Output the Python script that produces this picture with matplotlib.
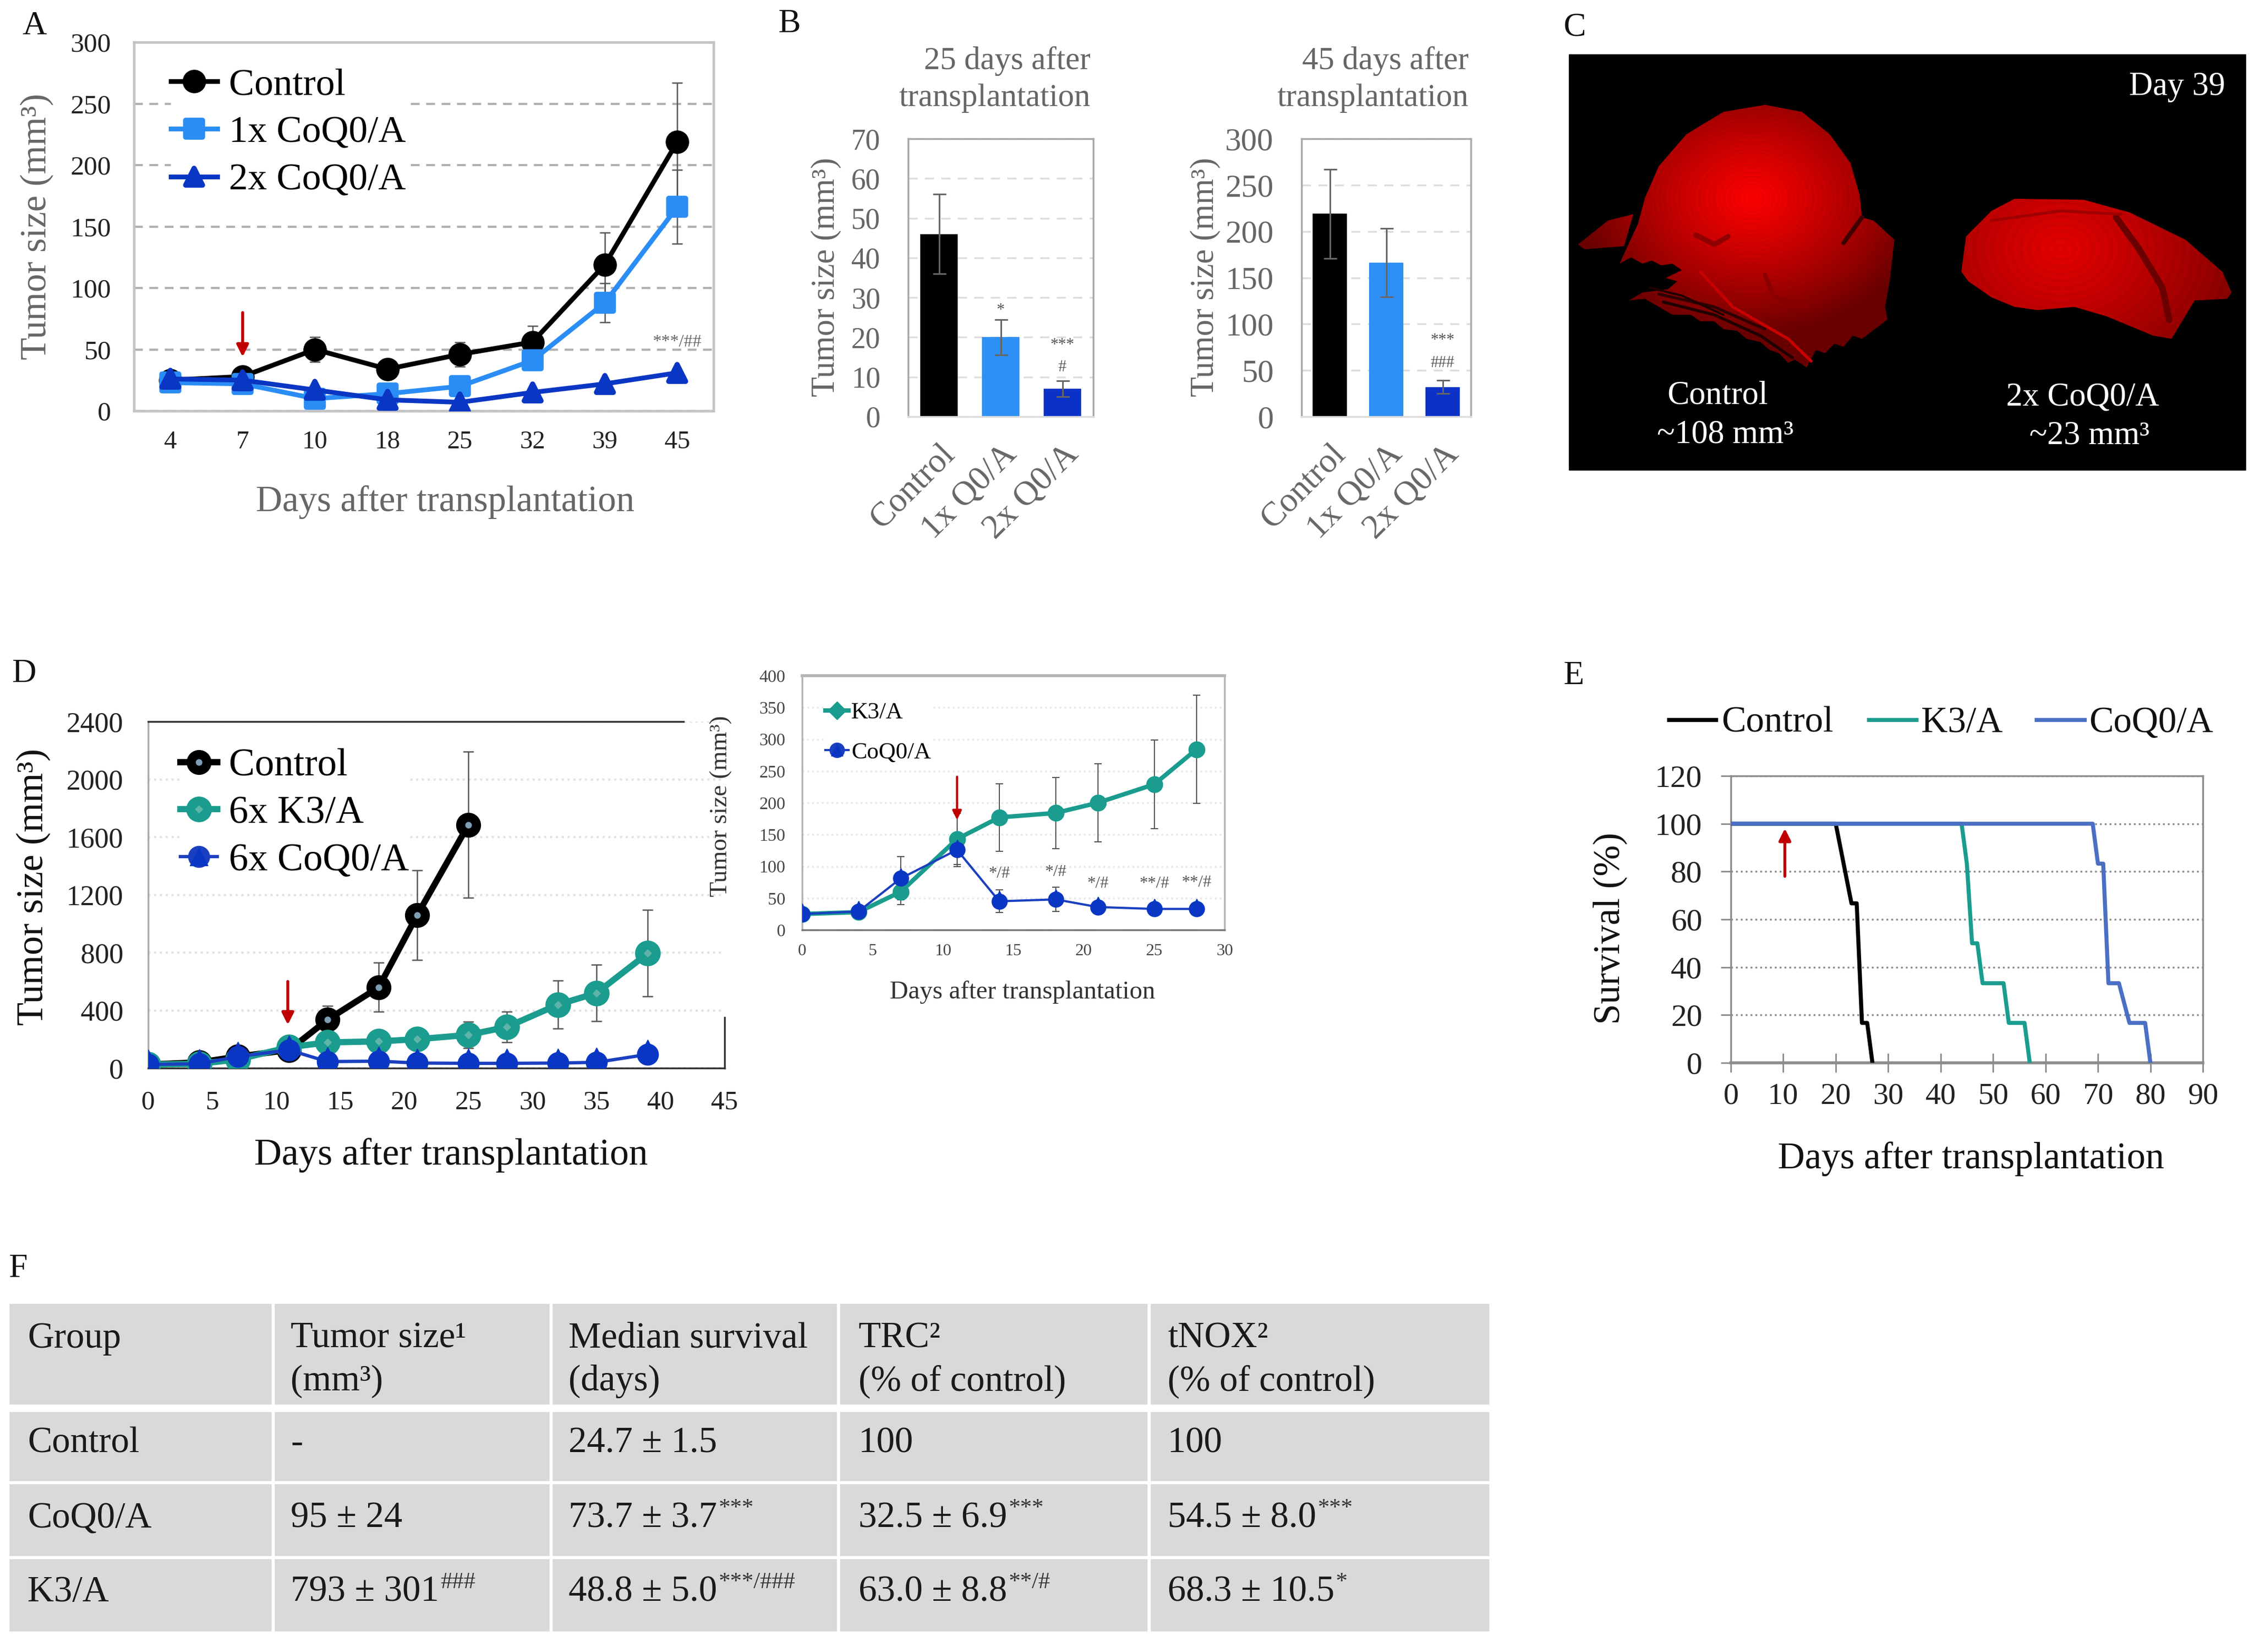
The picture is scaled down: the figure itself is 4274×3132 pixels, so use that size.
import numpy as np
import matplotlib
matplotlib.use("Agg")
from matplotlib import pyplot as plt
from matplotlib.lines import Line2D
from matplotlib.legend_handler import HandlerTuple
from matplotlib.markers import MarkerStyle
from matplotlib.patches import Polygon, Rectangle
from matplotlib.transforms import ScaledTranslation

plt.rcParams["font.family"] = ["Liberation Serif", "DejaVu Serif"]

W, H = 4274, 3132
BLACK = "#000000"
BLUE_1X = "#2a8df5"
BLUE_2X = "#0a36c4"
TEAL = "#1a9c8e"
NAVY = "#1a3fc0"
RED = "#c00000"
GREY_TXT = "#666666"
ROUND_SQ = MarkerStyle("s", joinstyle="round")
ROUND_TRI = MarkerStyle("^", joinstyle="round")

### Panel A data ###
a_days = ["4", "7", "10", "18", "25", "32", "39", "45"]
a_control = [25, 28, 50, 34, 46, 56, 119, 219]
a_control_err = [4, 4, 10, 5, 10, 13, 26, 48]
a_1x = [23, 22, 10, 14, 20, 41, 88, 166]
a_1x_err = [3, 3, 3, 3, 4, 6, 16, 30]
a_2x = [26, 25, 17, 9, 7, 15, 22, 31]
a_2x_err = [3, 3, 3, 2, 2, 3, 3, 5]

### Panel B data ###
b_groups = ["Control", "1x Q0/A", "2x Q0/A"]
b25_vals = [46, 20, 7]
b25_err = [10, 4.5, 2]
b45_vals = [219, 166, 32]
b45_err = [48, 37, 7]
b_colors = [BLACK, "#2e90f5", "#0a32c8"]

### Panel D data ###
d_days = [0, 4, 7, 11, 14, 18, 21, 25, 28, 32, 35, 39]
d_control_days = [0, 4, 7, 11, 14, 18, 21, 25]
d_control = [25, 40, 80, 125, 335, 560, 1060, 1685]
d_control_err = [8, 10, 25, 40, 95, 170, 310, 505]
d_k3 = [25, 30, 60, 145, 178, 185, 200, 230, 285, 440, 520, 795]
d_k3_err = [5, 8, 20, 40, 55, 55, 60, 90, 105, 165, 195, 300]
d_q0 = [25, 30, 80, 125, 45, 48, 35, 33, 33, 35, 40, 95]
d_q0_err = [5, 8, 30, 25, 18, 19, 10, 10, 10, 12, 12, 30]

### Inset data ###
i_days = [0, 4, 7, 11, 14, 18, 21, 25, 28]
i_k3 = [25, 28, 60, 143, 177, 184, 200, 229, 284]
i_k3_err = [4, 4, 20, 40, 53, 56, 61, 70, 85]
i_q0 = [25, 29, 81, 126, 45, 48, 36, 33, 33]
i_q0_err = [4, 4, 34, 26, 18, 19, 10, 6, 6]
i_marks = ["*/#", "*/#", "*/#", "**/#", "**/#"]
i_mark_x = [14, 18, 21, 25, 28]
i_mark_y = [88, 91, 73, 73, 74]

### Panel E data ###
e_control_x = [0, 20, 23, 24, 25, 26, 27]
e_control_y = [100, 100, 66.7, 66.7, 16.7, 16.7, 0]
e_k3_x = [0, 44, 45, 46, 47, 48, 52, 53, 56, 57]
e_k3_y = [100, 100, 83.3, 50, 50, 33.3, 33.3, 16.7, 16.7, 0]
e_q0_x = [0, 69, 70, 71, 72, 74, 76, 79, 80]
e_q0_y = [100, 100, 83.3, 83.3, 33.3, 33.3, 16.7, 16.7, 0]

### Table F data ###
t_columns = [("Group", "", ""),
             ("Tumor size¹", "(mm³)", ""),
             ("Median survival", "(days)", ""),
             ("TRC²", "(% of control)", ""),
             ("tNOX²", "(% of control)", "")]
t_group = ["Control", "CoQ0/A", "K3/A"]
t_size = [("-", ""), ("95 ± 24", ""), ("793 ± 301", "###")]
t_survival = [("24.7 ± 1.5", ""), ("73.7 ± 3.7", "***"), ("48.8 ± 5.0", "***/###")]
t_trc = [("100", ""), ("32.5 ± 6.9", "***"), ("63.0 ± 8.8", "**/#")]
t_tnox = [("100", ""), ("54.5 ± 8.0", "***"), ("68.3 ± 10.5", "*")]

fig = plt.figure(figsize=(W / 100, H / 100), dpi=100)
over = fig.add_axes([0, 0, 1, 1], zorder=10)
over.set_xlim(0, W)
over.set_ylim(H, 0)
over.axis("off")
over.patch.set_alpha(0)


def panel(x0, y0, x1, y1):
    return fig.add_axes([x0 / W, 1 - y1 / H, (x1 - x0) / W, (y1 - y0) / H])


def txt(x, y, s, size, color="#111111", ha="left", **kw):
    return over.text(x, y + 6, s, fontsize=size, color=color, ha=ha, va="center", **kw)


def labels(ax, box, ylab, yx, yy, ysize, xlab=None, xx=0, xy=0, xsize=0, color="#111111"):
    # put the axis labels at pixel positions
    x0, y0, x1, y1 = box
    ax.set_ylabel(ylab, fontsize=ysize, color=color, va="center")
    ax.yaxis.set_label_coords((yx - x0) / (x1 - x0), (y1 - yy) / (y1 - y0))
    if xlab:
        ax.set_xlabel(xlab, fontsize=xsize, color=color, va="center")
        ax.xaxis.set_label_coords((xx - x0) / (x1 - x0), (y1 - xy - 4) / (y1 - y0))


def spines(ax, color, lw=3):
    for s in ax.spines.values():
        s.set_color(color)
        s.set_linewidth(lw)


def legend_at(ax, handles, names, x, y, size, spacing, hlen, hpad):
    return ax.legend(handles, names, loc="upper left", bbox_to_anchor=(x / W, 1 - y / H),
                     bbox_transform=fig.transFigure, fontsize=size, frameon=True, framealpha=1,
                     facecolor="white", edgecolor="none", borderpad=0, borderaxespad=0,
                     labelspacing=spacing, handlelength=hlen, handletextpad=hpad,
                     handler_map={tuple: HandlerTuple(ndivide=1, pad=0)})


def red_arrow(ax, x, y_from, y_to, lw=4, scale=34):
    ax.annotate("", xy=(x, y_to), xytext=(x, y_from),
                arrowprops=dict(arrowstyle="-|>", color=RED, lw=lw, mutation_scale=scale,
                                shrinkA=0, shrinkB=0), zorder=12)


def errs(ax, x, y, e, lw=1.8, cap=7, color="#555555"):
    ax.errorbar(x, y, yerr=e, fmt="none", ecolor=color, elinewidth=lw, capsize=cap,
                capthick=lw, zorder=2)


### A ###
box = (254, 80, 1353, 779)
ax = panel(*box)
xs = np.arange(len(a_days))
errs(ax, xs, a_control, a_control_err)
errs(ax, xs, a_1x, a_1x_err)
ax.plot(xs, a_control, "-o", color=BLACK, lw=6.5, ms=31, zorder=3)
ax.plot(xs, a_1x, "-", color=BLUE_1X, lw=6.5, marker=ROUND_SQ, ms=23, mew=7, zorder=4)
ax.plot(xs, a_2x, "-", color=BLUE_2X, lw=6.5, marker=ROUND_TRI, ms=23, mew=7, zorder=5)
ax.set_xlim(-0.5, 7.5)
ax.set_ylim(0, 300)
ax.set_yticks(range(0, 301, 50))
ax.set_xticks(xs)
ax.set_xticklabels(a_days)
ax.tick_params(axis="y", length=0, pad=31, labelsize=37, labelcolor="#222222")
ax.tick_params(axis="x", length=0, pad=27, labelsize=35, labelcolor="#222222")
ax.yaxis.grid(True, color="#b0b0b0", ls=(0, (4, 3)), lw=3)
ax.set_axisbelow(True)
spines(ax, "#c4c4c4", 3.5)
labels(ax, box, "Tumor size (mm³)", 70, 430, 50, "Days after transplantation", 844, 948, 50, GREY_TXT)
ax.text(7, 56, "***/##", fontsize=24, color="#666666", ha="center", va="center")
red_arrow(ax, 1, 80, 44)
legend_at(ax, [Line2D([], [], color=BLACK, lw=6.5, marker="o", ms=31),
               Line2D([], [], color=BLUE_1X, lw=6.5, marker=ROUND_SQ, ms=23, mew=7),
               Line2D([], [], color=BLUE_2X, lw=6.5, marker=ROUND_TRI, ms=23, mew=7)],
          ["Control", "1x CoQ0/A", "2x CoQ0/A"], 324, 129, 52, 0.34, 1.22, 0.3)

### B ###
for box, vals, err, top, step, tsize, ylx, title, tx, marks in [
    ((1722, 263, 2073, 790), b25_vals, b25_err, 70, 10, 40, 1566, "25", 2068,
     [(1, 26.8, "*"), (2, 18, "***"), (2, 12.4, "#")]),
    ((2468, 263, 2789, 790), b45_vals, b45_err, 300, 50, 44, 2285, "45", 2785,
     [(2, 82, "***"), (2, 58, "###")]),
]:
    ax = panel(*box)
    xs = np.arange(3)
    ax.bar(xs, vals, width=0.6, color=b_colors, zorder=2)
    errs(ax, xs, vals, err, lw=2.2, cap=9, color="#666666")
    ax.set_xlim(-0.5, 2.5)
    ax.set_ylim(0, top)
    ax.set_yticks(range(0, top + 1, step))
    ax.set_xticks(xs)
    ax.set_xticklabels(b_groups, rotation=45, ha="right", rotation_mode="anchor")
    shift = ScaledTranslation(-18 / 100, 0, fig.dpi_scale_trans)
    for tl in ax.get_xticklabels():
        tl.set_transform(tl.get_transform() + shift)
    ax.tick_params(axis="y", length=0, pad=38, labelsize=tsize, labelcolor=GREY_TXT)
    ax.tick_params(axis="x", length=0, pad=30, labelsize=47, labelcolor=GREY_TXT)
    ax.yaxis.grid(True, color="#dddddd", ls=(0, (5, 4)), lw=2.5)
    ax.set_axisbelow(True)
    spines(ax, "#a8a8a8", 2.5)
    ax.spines["bottom"].set_color("#dddddd")
    labels(ax, box, "Tumor size (mm³)", ylx, 525, 45, color=GREY_TXT)
    for mx, my, ms in marks:
        ax.text(mx, my, ms, fontsize=22, color="#555555", ha="center", va="center", zorder=5)
    txt(tx, 110, title + " days after", 44, GREY_TXT, ha="right")
    txt(tx, 180, "transplantation", 44, GREY_TXT, ha="right")

### C ###
over.add_patch(Rectangle((2975, 103), 1283, 788, color="black", zorder=1))


def crop_pts(pts):
    p = np.array(pts, float)
    return np.column_stack([2900 + p[:, 0] * 0.876, p[:, 1] * 0.606])


def tumor(outlines, cx, cy, bright, dim, rings, streaks):
    # shaded red surface clipped to the hand traced outline
    for pts in outlines:
        poly = crop_pts(pts)
        x0, y0 = poly.min(axis=0)
        x1, y1 = poly.max(axis=0)
        gx, gy = np.meshgrid(np.linspace(x0, x1, 500), np.linspace(y0, y1, 500))
        c = crop_pts([(cx, cy)])[0]
        r = np.hypot((gx - c[0]) / 330, (gy - c[1]) / 260)
        v = np.clip(bright - (bright - dim) * r ** 1.2, dim, bright)
        v = v * (1 - 0.05 * np.sin(r * rings) ** 2)
        img = np.zeros(gx.shape + (3,))
        img[..., 0] = v
        im = over.imshow(img, extent=(x0, x1, y1, y0), aspect="auto", zorder=2, interpolation="bilinear")
        patch = Polygon(poly, closed=True, transform=over.transData, fc="none", ec="none")
        over.add_patch(patch)
        im.set_clip_path(patch)
    for pts, color, lw in streaks:
        s = crop_pts(pts)
        over.plot(s[:, 0], s[:, 1], color=color, lw=lw, zorder=3, solid_capstyle="round")


tumor([[(195, 825), (235, 700), (250, 620), (280, 520), (340, 420), (420, 350), (510, 328), (590, 350),
        (650, 420), (695, 510), (715, 610), (720, 680), (745, 690), (790, 750), (780, 880), (770, 960),
        (775, 1000), (720, 1060), (700, 1050), (680, 1085), (660, 1075), (640, 1105), (620, 1095),
        (600, 1150), (575, 1125), (560, 1135), (540, 1105), (520, 1095), (500, 1070), (470, 1060),
        (450, 1035), (420, 1030), (400, 1005), (370, 1005), (350, 985), (310, 985), (280, 960),
        (250, 935), (215, 940), (245, 915), (300, 905), (320, 880), (295, 870), (330, 845),
        (310, 825), (285, 830), (265, 815), (245, 825), (220, 805)],
       [(105, 765), (170, 690), (225, 670), (205, 770), (120, 780)]],
      480, 620, 1.0, 0.42, 110,
      [([(720, 680), (680, 760)], "#400000", 6),
       ([(370, 850), (440, 960), (560, 1060), (610, 1130)], "#c80000", 4),
       ([(290, 945), (400, 985), (500, 1050), (570, 1120)], "#200000", 4),
       ([(280, 920), (400, 960), (510, 1030)], "#300000", 4),
       ([(260, 900), (330, 925), (420, 985)], "#200000", 3),
       ([(510, 860), (530, 930), (600, 960)], "#8a0000", 6),
       ([(360, 735), (400, 765), (430, 740)], "#900000", 7)])
tumor([[(935, 850), (945, 740), (1000, 660), (1050, 622), (1200, 625), (1300, 665), (1420, 750), (1500, 850),
        (1520, 915), (1510, 935), (1440, 940), (1390, 1060), (1350, 1050), (1250, 990), (1180, 960),
        (1100, 970), (1050, 960), (1000, 930), (950, 880)]],
      1150, 780, 0.9, 0.55, 60,
      [([(1270, 680), (1320, 780), (1370, 900), (1385, 1000)], "#6a0000", 9),
       ([(1000, 690), (1150, 660), (1280, 670)], "#a00000", 4)])
over.set_xlim(0, W)
over.set_ylim(H, 0)
txt(4219, 159, "Day 39", 45, "white", ha="right", zorder=5)
txt(3257, 744, "Control", 45, "white", ha="center", zorder=5)
txt(3272, 818, "~108 mm³", 45, "white", ha="center", zorder=5)
txt(3949, 748, "2x CoQ0/A", 45, "white", ha="center", zorder=5)
txt(3962, 821, "~23 mm³", 45, "white", ha="center", zorder=5)

### D ###
box = (281, 1368, 1374, 2025)
ax = panel(*box)
errs(ax, d_control_days, d_control, d_control_err)
errs(ax, d_days, d_k3, d_k3_err)
errs(ax, d_days, d_q0, d_q0_err)
ax.plot(d_control_days, d_control, "-o", color=BLACK, lw=8.5, ms=33, zorder=3)
ax.plot(d_control_days[4:], d_control[4:], "o", color="#7f9db3", ms=8, zorder=3)
ax.plot(d_days, d_k3, "-o", color=TEAL, lw=8.5, ms=34, zorder=4)
ax.plot(d_days[4:], d_k3[4:], "D", color="#5fb3a8", ms=7, zorder=4)
ax.plot(d_days, d_q0, "-", color=NAVY, lw=4.5, zorder=5)
ax.plot(d_days, d_q0, "o", color=BLUE_2X, ms=29, zorder=5)
ax.plot(d_days, np.array(d_q0) + 50, "^", color=BLUE_2X, ms=20, zorder=5)
ax.set_xlim(0, 45)
ax.set_ylim(0, 2400)
ax.set_xticks(range(0, 46, 5))
ax.set_yticks(range(0, 2401, 400))
ax.tick_params(axis="y", length=0, pad=34, labelsize=39, labelcolor="#222222")
ax.tick_params(axis="x", length=0, pad=30, labelsize=37, labelcolor="#222222")
ax.yaxis.grid(True, color="#e2e2e2", ls=":", lw=3)
ax.set_axisbelow(True)
spines(ax, "#333333", 2.5)
ax.spines["left"].set_color("#aaaaaa")
ax.spines["top"].set_bounds(0, 41.8)
ax.spines["right"].set_bounds(0, 350)
labels(ax, box, "Tumor size (mm³)", 63, 1682, 52, "Days after transplantation", 855, 2186, 52)
red_arrow(ax, 10.9, 600, 300)
legend_at(ax, [(Line2D([], [], color=BLACK, lw=8.5, marker="o", ms=33),
                Line2D([], [], color="#7f9db3", lw=0, marker="o", ms=8)),
               (Line2D([], [], color=TEAL, lw=8.5, marker="o", ms=34),
                Line2D([], [], color="#5fb3a8", lw=0, marker="D", ms=7)),
               (Line2D([], [], color=NAVY, lw=4.5, marker="o", ms=29),
                Line2D([], [], color=BLUE_2X, lw=0, marker="^", ms=24))],
          ["Control", "6x K3/A", "6x CoQ0/A"], 342, 1419, 53, 0.30, 0.95, 0.3)

### D inset ###
box = (1521, 1281, 2322, 1763)
ax = panel(*box)
errs(ax, i_days, i_k3, i_k3_err, lw=1.5, cap=5)
errs(ax, i_days, i_q0, i_q0_err, lw=1.5, cap=5)
ax.plot(i_days, i_k3, "-o", color=TEAL, lw=6, ms=22, zorder=3)
ax.plot(i_days, i_q0, "-", color=NAVY, lw=3, zorder=4)
ax.plot(i_days, i_q0, "o", color=BLUE_2X, ms=21, zorder=4)
ax.plot(i_days, np.array(i_q0) + 8, "^", color=BLUE_2X, ms=15, zorder=4)
ax.set_xlim(0, 30)
ax.set_ylim(0, 400)
ax.set_xticks(range(0, 31, 5))
ax.set_yticks(range(0, 401, 50))
ax.tick_params(axis="y", length=0, pad=23, labelsize=24, labelcolor="#444444")
ax.tick_params(axis="x", length=0, pad=19, labelsize=23, labelcolor="#444444")
ax.yaxis.grid(True, color="#e8e8e8", ls=":", lw=2.5)
ax.set_axisbelow(True)
spines(ax, "#b4b4b4", 2.5)
ax.spines["top"].set_linewidth(4)
ax.spines["bottom"].set_color("#777777")
labels(ax, box, "Tumor size (mm³)", 1367, 1528, 34, "Days after transplantation", 1939, 1877, 35, "#333333")
for mx, my, ms in zip(i_mark_x, i_mark_y, i_marks):
    ax.text(mx, my, ms, fontsize=23, color="#555555", ha="center", va="center", zorder=5)
red_arrow(ax, 11, 241, 173, lw=3, scale=26)
legend_at(ax, [Line2D([], [], color=TEAL, lw=6, marker="D", ms=17),
               (Line2D([], [], color=NAVY, lw=3, marker="o", ms=20),
                Line2D([], [], color=BLUE_2X, lw=0, marker="^", ms=16))],
          ["K3/A", "CoQ0/A"], 1565, 1331, 32, 0.8, 1.0, 0.1)

### E ###
box = (3282, 1471, 4177, 2015)
ax = panel(*box)
ax.plot(e_control_x, e_control_y, color=BLACK, lw=5.5, zorder=3)
ax.plot(e_k3_x, e_k3_y, color=TEAL, lw=5.5, zorder=3)
ax.plot(e_q0_x, e_q0_y, color="#4a6fc3", lw=5.5, zorder=4)
ax.set_xlim(0, 90)
ax.set_ylim(0, 120)
ax.set_xticks(range(0, 91, 10))
ax.set_yticks(range(0, 121, 20))
ax.tick_params(axis="y", length=14, width=2, color="#888888", pad=25, labelsize=43, labelcolor="#222222")
ax.tick_params(axis="x", direction="inout", length=26, width=2, color="#888888", pad=14, labelsize=42, labelcolor="#222222")
ax.yaxis.grid(True, color="#8c8c8c", ls=":", lw=2.5)
ax.set_axisbelow(True)
spines(ax, "#8c8c8c", 2.5)
ax.spines["bottom"].set_linewidth(4)
labels(ax, box, "Survival (%)", 3053, 1760, 51, "Days after transplantation", 3737, 2193, 51)
red_arrow(ax, 10.3, 78, 98)
for lx0, lx1, tx, name, color in [(3165, 3254, 3264, "Control", BLACK),
                                  (3544, 3634, 3643, "K3/A", TEAL),
                                  (3862, 3953, 3961, "CoQ0/A", "#4a6fc3")]:
    over.plot([lx0, lx1], [1365, 1365], color=color, lw=5.5)
    txt(tx, 1365, name, 50)

### F ###
col_edges = [(18, 515), (521, 1042), (1048, 1587), (1593, 2176), (2182, 2824)]
row_edges = [(2472, 2663), (2677, 2808), (2814, 2950), (2956, 3093)]
col_text = [52, 551, 1078, 1628, 2214]
row_text = [2731, 2873, 3013]
for cx0, cx1 in col_edges:
    for ry0, ry1 in row_edges:
        over.add_patch(Rectangle((cx0, ry0), cx1 - cx0, ry1 - ry0, color="#d9d9d9", lw=0))


def cell(x, y, base, sup=""):
    t = txt(x, y, base, 50, "#1a1a1a")
    if sup:
        over.annotate(sup, xy=(1, 0.8), xycoords=t, xytext=(2, 0), textcoords="offset points",
                      fontsize=32, color="#333333", ha="left", va="center")


for tx, (line1, line2, _) in zip(col_text, t_columns):
    cell(tx, 2532, line1)
    if line2:
        cell(tx, 2613, line2)
for i, y in enumerate(row_text):
    cell(col_text[0], y, t_group[i])
    for tx, col in zip(col_text[1:], [t_size, t_survival, t_trc, t_tnox]):
        cell(tx, y, col[i][0], col[i][1])

### panel letters ###
for lx, ly, name in [(65, 44, "A"), (1496, 40, "B"), (2986, 47, "C"),
                     (45, 1272, "D"), (2984, 1276, "E"), (34, 2400, "F")]:
    txt(lx, ly, name, 46, "#111111", ha="center")

fig.savefig("out.png", dpi=100)
